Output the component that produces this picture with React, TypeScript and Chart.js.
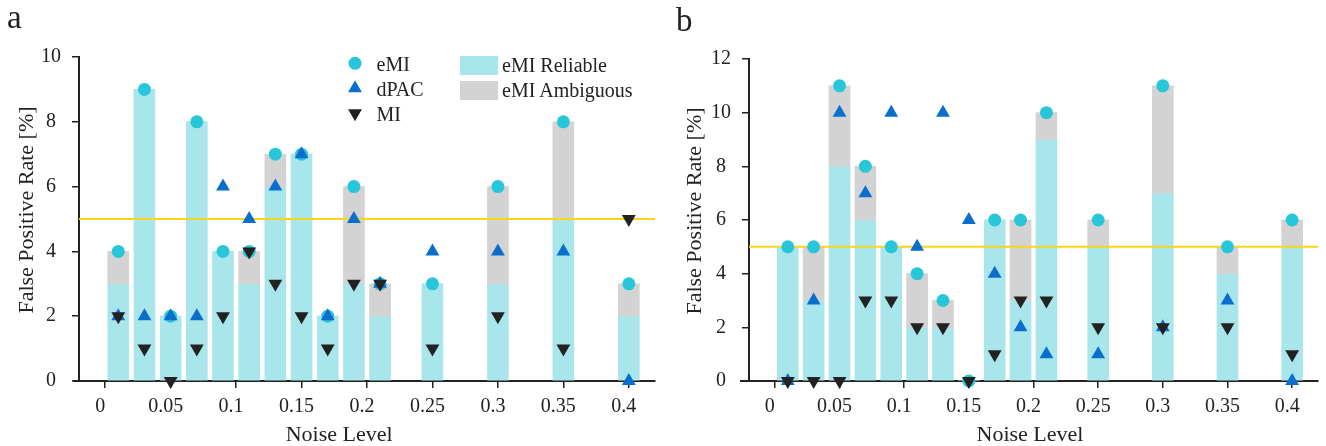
import React, { useEffect, useRef } from 'react';
import { Chart, registerables } from 'chart.js';

Chart.register(...registerables);

// ---------- data ----------
const NOISE_LEVELS = [0.01, 0.03, 0.05, 0.07, 0.09, 0.11, 0.13, 0.15, 0.17, 0.19, 0.21, 0.25, 0.3, 0.35, 0.4];
const X_TICKS = [0, 0.05, 0.1, 0.15, 0.2, 0.25, 0.3, 0.35, 0.4];
const X_TICK_LABELS = ['0', '0.05', '0.1', '0.15', '0.2', '0.25', '0.3', '0.35', '0.4'];
const X_MIN = -0.02;
const X_MAX = 0.42;
const THRESHOLD = 5;

// panel a
const A_EMI_TOTAL = [4, 9, 2, 8, 4, 4, 7, 7, 2, 6, 3, 3, 6, 8, 3];
const A_EMI_RELIABLE = [3, 9, 2, 8, 4, 3, 6, 7, 2, 3, 2, 3, 3, 5, 2];
const A_DPAC = [2, 2, 2, 2, 6, 5, 6, 7, 2, 5, 3, 4, 4, 4, 0];
const A_MI = [2, 1, 0, 1, 2, 4, 3, 2, 1, 3, 3, 1, 2, 1, 5];
const A_Y_TICKS = [0, 2, 4, 6, 8, 10];
const A_Y_LABELS = ['0', '2', '4', '6', '8', '10'];

// panel b
const B_EMI_TOTAL = [5, 5, 11, 8, 5, 4, 3, 0, 6, 6, 10, 6, 11, 5, 6];
const B_EMI_RELIABLE = [5, 3, 8, 6, 5, 2, 2, 0, 6, 3, 9, 5, 7, 4, 5];
const B_DPAC = [0, 3, 10, 7, 10, 5, 10, 6, 4, 2, 1, 1, 2, 3, 0];
const B_MI = [0, 0, 0, 3, 3, 2, 2, 0, 1, 3, 3, 2, 2, 2, 1];
const B_Y_TICKS = [0, 2, 4, 6, 8, 10, 12];
const B_Y_LABELS = ['0', '2', '4', '6', '8', '10', '12'];

const X_TITLE = 'Noise Level';
const Y_TITLE = 'False Positive Rate [%]';

// ---------- styles ----------
const FONT = "'Liberation Serif', 'Times New Roman', Times, serif";
const TEXT = '#222222';
const AXIS = '#222222';
const C_EMI = '#27C6D9';
const C_DPAC = '#0A6FCC';
const C_MI = '#222222';
const C_REL = '#A9E6EC';
const C_AMB = '#D3D3D3';
const C_THR = '#F9D61C';

const CANVAS_W = 663;
const CANVAS_H = 446;
const ASC = 0.8375;

type PanelProps = {
  left: number;
  total: number[];
  reliable: number[];
  dpac: number[];
  mi: number[];
  yMax: number;
  yTicks: number[];
  yLabels: string[];
  yAxisWidth: number;
  padTop: number;
  padRight: number;
  areaBottom: number;
  axisExt: number;
};

function Panel(p: PanelProps) {
  const ref = useRef<HTMLCanvasElement>(null);
  useEffect(() => {
    if (!ref.current) return;
    const pts = (vals: number[]) => NOISE_LEVELS.map((x, i) => ({ x, y: vals[i] }));
    const axisExtPlugin = {
      id: 'axisExt',
      afterDraw(c: any) {
        const { ctx, chartArea } = c;
        ctx.save();
        ctx.strokeStyle = AXIS;
        ctx.lineWidth = 2;
        ctx.beginPath();
        ctx.moveTo(chartArea.left - p.axisExt, chartArea.bottom);
        ctx.lineTo(chartArea.left, chartArea.bottom);
        ctx.stroke();
        ctx.restore();
      },
    };
    const tickFont = { family: FONT, size: 20 };
    const chart = new Chart(ref.current, {
      type: 'bar',
      data: {
        datasets: [
          {
            type: 'scatter', label: 'MI', data: pts(p.mi),
            pointStyle: 'triangle', pointRotation: 180, pointRadius: 8,
            pointBackgroundColor: C_MI, pointBorderWidth: 0, order: 0, clip: false,
          } as any,
          {
            type: 'scatter', label: 'dPAC', data: pts(p.dpac),
            pointStyle: 'triangle', pointRadius: 8,
            pointBackgroundColor: C_DPAC, pointBorderWidth: 0, order: 1, clip: false,
          } as any,
          {
            type: 'scatter', label: 'eMI', data: pts(p.total),
            pointStyle: 'circle', pointRadius: 6.5,
            pointBackgroundColor: C_EMI, pointBorderWidth: 0, order: 2, clip: false,
          } as any,
          {
            type: 'line', label: 'threshold',
            data: [{ x: X_MIN, y: THRESHOLD }, { x: X_MAX, y: THRESHOLD }],
            borderColor: C_THR, borderWidth: 2, pointRadius: 0, order: 3,
          } as any,
          {
            type: 'bar', label: 'eMI Ambiguous',
            data: NOISE_LEVELS.map((x, i) => ({ x, y: [p.reliable[i], p.total[i]] })),
            backgroundColor: C_AMB, barThickness: 21, grouped: false, order: 4,
          } as any,
          {
            type: 'bar', label: 'eMI Reliable', data: pts(p.reliable),
            backgroundColor: C_REL, barThickness: 21, grouped: false, order: 5,
          } as any,
        ],
      },
      options: {
        responsive: false,
        maintainAspectRatio: false,
        animation: false,
        devicePixelRatio: 1,
        layout: { padding: { top: p.padTop, right: p.padRight, left: 0, bottom: 0 } },
        plugins: { legend: { display: false }, tooltip: { enabled: false }, title: { display: false } },
        scales: {
          x: {
            type: 'linear', min: X_MIN, max: X_MAX, offset: false,
            grid: { display: true, drawOnChartArea: false, drawTicks: true, tickLength: 7, color: AXIS, lineWidth: 1.5, tickWidth: 1.5, offset: false },
            border: { display: true, color: AXIS, width: 2 },
            ticks: {
              font: tickFont, color: TEXT, padding: 7, labelOffset: -5, maxRotation: 0, autoSkip: false,
              callback: (_v: any, i: number) => X_TICK_LABELS[i] ?? '',
            },
            afterBuildTicks: (s: any) => { s.ticks = X_TICKS.map((v) => ({ value: v })); },
            afterFit: (s: any) => { s.height = CANVAS_H - p.areaBottom; },
          },
          y: {
            type: 'linear', min: 0, max: p.yMax,
            grid: { display: true, drawOnChartArea: false, drawTicks: true, tickLength: 7, color: AXIS, lineWidth: 1.5, tickWidth: 1.5 },
            border: { display: true, color: AXIS, width: 2 },
            ticks: {
              font: tickFont, color: TEXT, padding: 11, crossAlign: 'center',
              callback: (_v: any, i: number) => p.yLabels[i] ?? '',
            },
            afterBuildTicks: (s: any) => { s.ticks = p.yTicks.map((v) => ({ value: v })); },
            afterFit: (s: any) => { s.width = p.yAxisWidth; },
          },
        },
      } as any,
      plugins: [axisExtPlugin],
    });
    return () => chart.destroy();
  }, []);
  return (
    <canvas
      ref={ref}
      width={CANVAS_W}
      height={CANVAS_H}
      style={{ position: 'absolute', left: p.left, top: 0, width: CANVAS_W, height: CANVAS_H }}
    />
  );
}

function Txt({ x, baseline, size, children, center }: { x: number; baseline: number; size: number; children: React.ReactNode; center?: boolean }) {
  return (
    <div
      style={{
        position: 'absolute', left: x, top: baseline - ASC * size, fontFamily: FONT, fontSize: size,
        lineHeight: `${size}px`, color: TEXT, whiteSpace: 'nowrap',
        transform: center ? 'translateX(-50%)' : undefined,
      }}
    >
      {children}
    </div>
  );
}

function YTitle({ cx, cy }: { cx: number; cy: number }) {
  return (
    <div
      style={{
        position: 'absolute', left: cx, top: cy, fontFamily: FONT, fontSize: 22, lineHeight: '22px',
        color: TEXT, whiteSpace: 'nowrap', transform: 'translate(-50%, -50%) rotate(-90deg)',
      }}
    >
      {Y_TITLE}
    </div>
  );
}

function Legend() {
  return (
    <>
      <svg style={{ position: 'absolute', left: 0, top: 0 }} width={1326} height={446}>
        <circle cx={355} cy={63.3} r={6.5} fill={C_EMI} />
        <polygon points="355,80.3 361.93,92.3 348.07,92.3" fill={C_DPAC} />
        <polygon points="355,121.3 361.93,109.3 348.07,109.3" fill={C_MI} />
        <rect x={460} y={56} width={38} height={19} fill={C_REL} />
        <rect x={460} y={81} width={38} height={19} fill={C_AMB} />
      </svg>
      <Txt x={376.5} baseline={71} size={20}>eMI</Txt>
      <Txt x={376.5} baseline={96} size={20}>dPAC</Txt>
      <Txt x={376.5} baseline={121} size={20}>MI</Txt>
      <Txt x={502} baseline={71.7} size={20}>eMI Reliable</Txt>
      <Txt x={502} baseline={97} size={20}>eMI Ambiguous</Txt>
    </>
  );
}

export default function App() {
  return (
    <div style={{ position: 'absolute', left: 0, top: 0, width: 1326, height: 446, background: '#fff', overflow: 'hidden' }}>
      <Panel
        left={0}
        total={A_EMI_TOTAL} reliable={A_EMI_RELIABLE} dpac={A_DPAC} mi={A_MI}
        yMax={10} yTicks={A_Y_TICKS} yLabels={A_Y_LABELS}
        yAxisWidth={79} padTop={57} padRight={8} areaBottom={381} axisExt={6}
      />
      <Panel
        left={663}
        total={B_EMI_TOTAL} reliable={B_EMI_RELIABLE} dpac={B_DPAC} mi={B_MI}
        yMax={12} yTicks={B_Y_TICKS} yLabels={B_Y_LABELS}
        yAxisWidth={86} padTop={59} padRight={4} areaBottom={381} axisExt={9}
      />
      <Txt x={7} baseline={29} size={33}>a</Txt>
      <Txt x={676} baseline={32} size={33}>b</Txt>
      <Txt x={339.2} baseline={441.7} size={22} center>{X_TITLE}</Txt>
      <Txt x={1030} baseline={441.7} size={22} center>{X_TITLE}</Txt>
      <YTitle cx={25.6} cy={209.5} />
      <YTitle cx={694.1} cy={210.5} />
      <Legend />
    </div>
  );
}
